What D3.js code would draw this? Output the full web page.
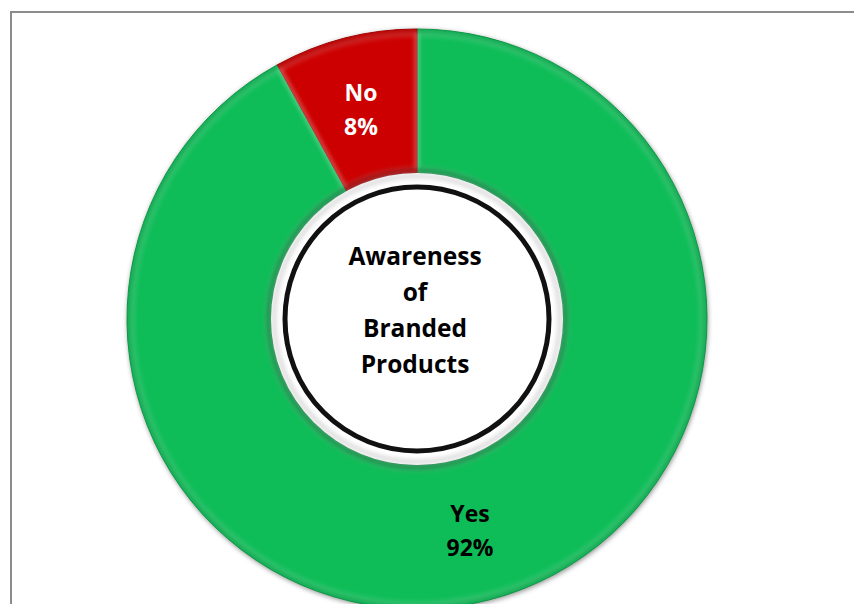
<!DOCTYPE html>
<html>
<head>
<meta charset="utf-8">
<script src="https://cdn.jsdelivr.net/npm/d3@7"></script>
<style>
  html, body { margin: 0; padding: 0; background: #fff; }
  svg { display: block; }
  text { font-family: "Open Sans", "Noto Sans", sans-serif; font-weight: 700; }
</style>
</head>
<body>
<svg id="chart" width="854" height="604"></svg>
<script>
// Survey answers
const categories = ["Yes", "No"];
const shares = [92, 8];
const sliceColors = ["#0fbd58", "#cc0000"];
const labelColors = ["#000000", "#ffffff"];
const centerTitle = ["Awareness", "of", "Branded", "Products"];

const svg = d3.select("#chart");
const W = 854, H = 604;
const cx = 417, cy = 319;
const outerR = 290, innerR = 146;

// frame (top and left rules)
svg.append("path")
  .attr("d", `M11,${H} L11,12 L${W},12`)
  .attr("fill", "none")
  .attr("stroke", "#8c8c8c")
  .attr("stroke-width", 2);

const defs = svg.append("defs");
const soft = defs.append("filter").attr("id", "soft")
  .attr("x", "-20%").attr("y", "-20%").attr("width", "140%").attr("height", "140%")
  .attr("color-interpolation-filters", "sRGB");
soft.append("feGaussianBlur").attr("stdDeviation", 2.5);

const g = svg.append("g").attr("transform", `translate(${cx},${cy})`);

// shadow under the ring
g.append("circle").attr("cx", 1).attr("cy", 2).attr("r", outerR)
  .attr("fill", "#000").attr("fill-opacity", 0.35).attr("filter", "url(#soft)");

const pie = d3.pie().sort(null).value(d => d.value);
const data = categories.map((c, i) => ({ name: c, value: shares[i], idx: i }));
const arcs = pie(data);
const arc = d3.arc().innerRadius(innerR).outerRadius(outerR);

g.append("g").selectAll("path").data(arcs).join("path")
  .attr("d", arc)
  .attr("fill", d => sliceColors[d.data.idx])
  .attr("stroke", d => d3.color(sliceColors[d.data.idx]).darker(0.5))
  .attr("stroke-width", 1);

// bevel: darker rim at outer edge, light rim at slice borders
g.append("circle").attr("r", outerR - 2)
  .attr("fill", "none").attr("stroke", "#000").attr("stroke-opacity", 0.18)
  .attr("stroke-width", 3).attr("filter", "url(#soft)");
g.append("g").selectAll("path").data(arcs).join("path")
  .attr("d", d3.arc().innerRadius(innerR + 4).outerRadius(outerR - 5))
  .attr("fill", "none")
  .attr("stroke", "#ffffff")
  .attr("stroke-opacity", 0.25)
  .attr("stroke-width", 3)
  .attr("filter", "url(#soft)");

// hole with inner shade
g.append("circle").attr("r", innerR + 2)
  .attr("fill", "none").attr("stroke", "#000").attr("stroke-opacity", 0.3)
  .attr("stroke-width", 5).attr("filter", "url(#soft)");
g.append("circle").attr("r", innerR).attr("fill", "#ffffff");
g.append("circle").attr("r", innerR - 3)
  .attr("fill", "none").attr("stroke", "#c8c8c8").attr("stroke-width", 3)
  .attr("filter", "url(#soft)");
g.append("circle").attr("r", 132)
  .attr("fill", "#ffffff").attr("stroke", "#111").attr("stroke-width", 5);

// slice labels
const labelPos = [[53, 203], [-56, -218]];
arcs.forEach((d, i) => {
  const t = g.append("text")
    .attr("text-anchor", "middle")
    .attr("fill", labelColors[i])
    .attr("font-size", 23);
  t.append("tspan").attr("x", labelPos[i][0]).attr("y", labelPos[i][1]).text(d.data.name);
  t.append("tspan").attr("x", labelPos[i][0]).attr("y", labelPos[i][1] + 34).text(d.data.value + "%");
});

// center title
const ct = g.append("text").attr("text-anchor", "middle").attr("fill", "#000").attr("font-size", 24.5);
centerTitle.forEach((line, i) => {
  ct.append("tspan").attr("x", -2).attr("y", -54 + i * 36).text(line);
});
</script>
</body>
</html>
